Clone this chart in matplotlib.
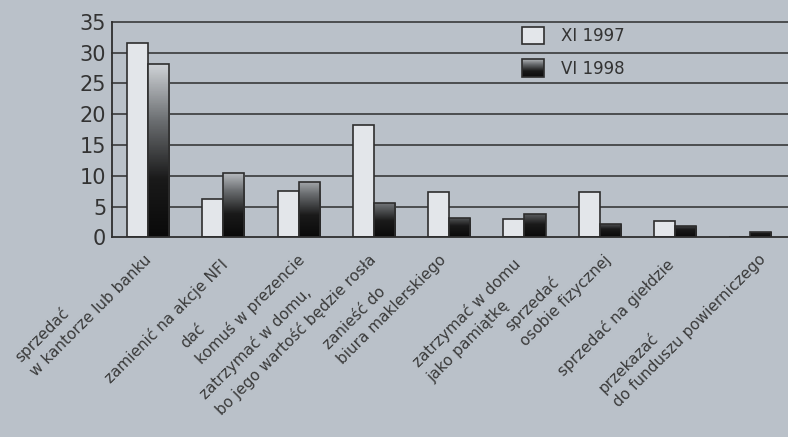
import numpy as np
import matplotlib
matplotlib.use("Agg")
import matplotlib.pyplot as plt
from matplotlib.colors import LinearSegmentedColormap
from matplotlib.patches import Patch, Rectangle
from matplotlib.legend_handler import HandlerBase
from matplotlib.image import BboxImage
from matplotlib.transforms import Bbox, TransformedBbox

# odpowiedzi (kategorie) i odsetki dla dwóch badań
kategorie = [
    "sprzedać\nw kantorze lub banku",
    "zamienić na akcje NFI",
    "dać\nkomuś w prezencie",
    "zatrzymać w domu,\nbo jego wartość będzie rosła",
    "zanieść do\nbiura maklerskiego",
    "zatrzymać w domu\njako pamiątkę",
    "sprzedać\nosobie fizycznej",
    "sprzedać na giełdzie",
    "przekazać\ndo funduszu powierniczego",
]
xi_1997 = [31.5, 6.2, 7.5, 18.2, 7.3, 3.0, 7.3, 2.6, 0.0]
vi_1998 = [28.2, 10.5, 9.0, 5.5, 3.1, 3.8, 2.1, 1.9, 0.9]
etykiety_serii = ["XI 1997", "VI 1998"]
yticks = [0, 5, 10, 15, 20, 25, 30, 35]

# drobne przesunięcia podpisów (w pikselach), jak na oryginale
przesun_px = [10, 0, 13, 9, 4, -8, 18, -5, 22]

tlo = "#bac1c9"
biel = "#e3e6ea"
ciemny = "#2e2e2e"
cmap = LinearSegmentedColormap.from_list("grad", ["#0a0a0a", "#1a1a1a", "#6a6d70", "#cfd3d7"])


class GradientHandler(HandlerBase):
    # kwadracik legendy z gradientem jak w słupkach
    def create_artists(self, legend, orig, xdescent, ydescent, width, height, fontsize, trans):
        bb = TransformedBbox(Bbox.from_bounds(-xdescent, -ydescent, width, height), trans)
        img = BboxImage(bb, cmap=cmap, norm=plt.Normalize(0, 1), interpolation="bilinear")
        img.set_data(np.linspace(0.9, 0.05, 50).reshape(-1, 1))
        rect = Rectangle((-xdescent, -ydescent), width, height, facecolor="none",
                         edgecolor=ciemny, lw=1.2, transform=trans)
        return [img, rect]


fig = plt.figure(figsize=(7.88, 4.37), dpi=100, facecolor=tlo)
ax = fig.add_axes([0.142, 0.457, 0.858, 0.493])
ax.set_facecolor(tlo)

x = np.arange(len(kategorie))
w = 0.28

# linie siatki za słupkami
for v in yticks[1:]:
    ax.axhline(v, color=ciemny, lw=1.1, zorder=0, clip_on=False)

ax.bar(x - w / 2, xi_1997, w, color=biel, edgecolor=ciemny, lw=1.2, zorder=2)
ciemne = ax.bar(x + w / 2, vi_1998, w, color="none", edgecolor=ciemny, lw=1.2, zorder=3)

# gradient w ciemnych słupkach (jasny u góry, czarny u dołu)
for p, h in zip(ciemne.patches, vi_1998):
    if h <= 0:
        continue
    top = 0.45 + 0.55 * min(h / 12.0, 1.0)
    grad = np.linspace(top, 0, 100).reshape(-1, 1)
    im = ax.imshow(grad, cmap=cmap, vmin=0, vmax=1, aspect="auto",
                   extent=[p.get_x(), p.get_x() + p.get_width(), 0, h], zorder=2.5)
    im.set_clip_path(p)

ax.set_xlim(-0.48, 8.5)
ax.set_ylim(0, 35)
ax.set_yticks(yticks)
ax.set_yticklabels([str(v) for v in yticks], fontsize=15, color="#333333")
ax.tick_params(axis="y", length=0, pad=4)
ax.set_xticks([])
for s in ["top", "right"]:
    ax.spines[s].set_visible(False)
for s in ["left", "bottom"]:
    ax.spines[s].set_color(ciemny)
    ax.spines[s].set_linewidth(1.3)

tr = ax.get_xaxis_transform()
dx_px = (8.5 + 0.48) / (0.858 * 788)
for xi, lab, dp in zip(x, kategorie, przesun_px):
    linie = lab.split("\n")
    # koniec najdłuższej linii przy grupie słupków
    va = "top" if len(linie[0]) >= len(linie[-1]) else "bottom"
    yy = -0.088 if va == "top" else -0.088 - 0.03 * (len(linie) - 1)
    ax.text(xi - 0.05 + dp * dx_px, yy, lab, transform=tr, rotation=45,
            rotation_mode="anchor", ha="right", va=va, multialignment="left",
            fontsize=11, color="#3a3a3a", linespacing=1.45)

uchwyty = [Patch(facecolor=biel, edgecolor=ciemny, lw=1.2),
           Patch(facecolor="#4a4c4f", edgecolor=ciemny, lw=1.2)]
ax.legend(uchwyty, etykiety_serii, loc="upper left", bbox_to_anchor=(0.585, 1.045),
          frameon=False, fontsize=12, handlelength=1.3, handleheight=1.2,
          labelspacing=0.85, handletextpad=1.0, labelcolor="#333333",
          handler_map={uchwyty[1]: GradientHandler()})

fig.savefig("out.png", dpi=100, facecolor=tlo)
